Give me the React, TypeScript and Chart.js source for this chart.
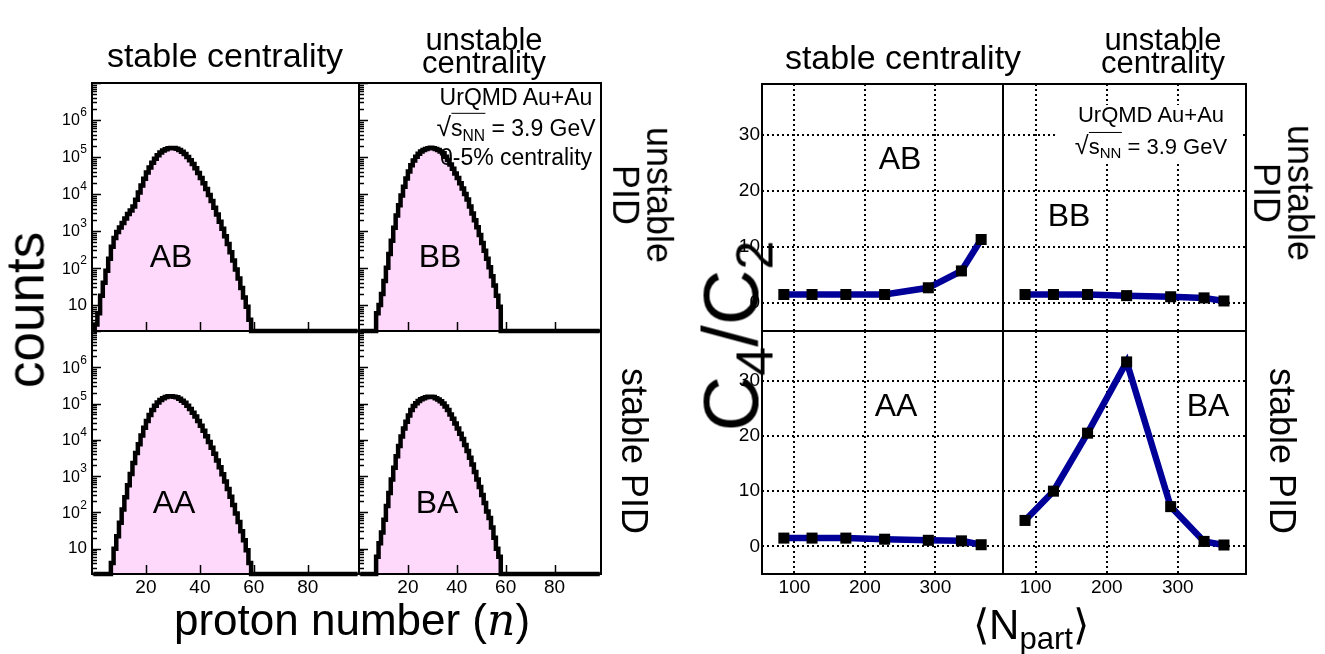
import React, { useEffect, useRef } from "react";
import { Chart, registerables } from "chart.js";

Chart.register(...registerables);

const PAGE_W = 1325;
const PAGE_H = 654;
const FONT = '"Liberation Sans", Arial, Helvetica, sans-serif';

// ---------- Data: proton-number distributions (counts per bin n, bin [n, n+1), from n = 0) ----------
const countsAB = [
  0, 3, 6, 18, 40, 85, 180, 380, 650, 950, 1250, 1650, 2200, 2900, 3600, 4600, 7000, 11000, 17000, 26000,
  38000, 52000, 70000, 90000, 112000, 132000, 150000, 163000, 172000, 176000, 175000, 168000, 155000, 138000,
  120000, 100000, 82000, 65000, 50000, 37000, 27000, 19500, 13800, 9500, 6500, 4300, 2800, 1800, 1150, 720,
  450, 270, 160, 92, 52, 29, 16, 9, 4,
];
const countsBB = [
  0, 0, 0, 0, 0, 0, 0, 6, 10, 20, 45, 102, 240, 550, 1230, 2630, 5000, 9100, 15800, 26300, 40700, 60000,
  81000, 102000, 123000, 141000, 155000, 166000, 174000, 178000, 174000, 166000, 155000, 141000, 126000,
  102000, 83000, 63000, 48000, 36000, 27000, 19500, 14100, 10000, 7100, 4600, 3000, 1950, 1260, 780, 480,
  295, 178, 105, 60, 34, 18, 9,
];
const countsAA = [
  0, 0, 0, 0, 0, 0, 0, 4, 10, 22, 52, 120, 263, 560, 1150, 2300, 4300, 7600, 13200, 21400, 33000, 48000,
  66000, 87000, 107000, 126000, 141000, 151000, 158000, 158000, 155000, 148000, 135000, 120000, 105000,
  87000, 71000, 56000, 44000, 33000, 24500, 17800, 12600, 8700, 6000, 4100, 2700, 1740, 1120, 710, 440, 270,
  160, 93, 54, 30, 17, 9, 4,
];
const countsBA = [
  0, 0, 0, 0, 0, 0, 0, 6, 14, 28, 63, 150, 340, 800, 1700, 3500, 6800, 12300, 20400, 31600, 46800, 66000,
  85000, 102000, 117000, 132000, 141000, 148000, 155000, 155000, 151000, 141000, 129000, 115000, 100000,
  83000, 66000, 50000, 38000, 28000, 20400, 14800, 10500, 7200, 4900, 3200, 2100, 1300, 810, 500, 300, 180,
  105, 70, 38, 20, 10, 6,
];
const histBins = 99;
const histXRange = [0, 99];
const histYRange = [2, 1e7];
const histXTicks = [20, 40, 60, 80];
const histYTickExponents = [1, 2, 3, 4, 5, 6];

// ---------- Data: C4/C2 vs <Npart> ----------
const npart = [85, 125, 173, 228, 290, 337, 365];
const c4c2AB = [1.5, 1.5, 1.5, 1.5, 2.7, 5.7, 11.3];
const c4c2BB = [1.5, 1.5, 1.5, 1.3, 1.1, 0.9, 0.35];
const c4c2AA = [1.5, 1.5, 1.5, 1.3, 1.1, 1.0, 0.3];
const c4c2BA = [4.7, 10.0, 20.5, 33.4, 7.2, 0.9, 0.25];
const ratioXRange = [54, 396];
const ratioYRange = [-5, 39];
const ratioXTicks = [100, 200, 300];
const ratioYTicks = [0, 10, 20, 30];

type Frame = { l: number; t: number; r: number; b: number };
type PanelSpec = {
  kind: "hist" | "ratio";
  frame: Frame;
  values: number[];
  showY: boolean;
  showX: boolean;
};

const PINK = "#ffd9fc";
const BLUE = "#000099";

function axesPlugin(p: PanelSpec) {
  return {
    id: "rootAxes",
    beforeDatasetsDraw(chart: any) {
      if (p.kind !== "ratio") return;
      const ctx = chart.ctx as CanvasRenderingContext2D;
      const { left, right, top, bottom } = chart.chartArea;
      const xs = chart.scales.x;
      const ys = chart.scales.y;
      ctx.save();
      ctx.strokeStyle = "#000";
      ctx.lineWidth = 2;
      ctx.setLineDash([2, 3]);
      for (const v of ratioXTicks) {
        const x = Math.round(xs.getPixelForValue(v));
        ctx.beginPath();
        ctx.moveTo(x, top);
        ctx.lineTo(x, bottom);
        ctx.stroke();
      }
      for (const v of ratioYTicks) {
        const y = Math.round(ys.getPixelForValue(v));
        ctx.beginPath();
        ctx.moveTo(left, y);
        ctx.lineTo(right, y);
        ctx.stroke();
      }
      ctx.restore();
    },
    afterDatasetsDraw(chart: any) {
      const ctx = chart.ctx as CanvasRenderingContext2D;
      const { left, right, top, bottom } = chart.chartArea;
      const xs = chart.scales.x;
      const ys = chart.scales.y;
      ctx.save();
      ctx.setLineDash([]);
      ctx.strokeStyle = "#000";
      ctx.fillStyle = "#000";
      if (p.kind === "hist") {
        ctx.lineWidth = 1.5;
        for (let e = 0; e <= 7; e++) {
          for (let m = 1; m <= 9; m++) {
            const v = m * Math.pow(10, e);
            if (v < histYRange[0] || v > histYRange[1]) continue;
            const y = Math.round(ys.getPixelForValue(v)) + 0.5;
            const len = m === 1 ? 9 : 5;
            ctx.beginPath();
            ctx.moveTo(left, y);
            ctx.lineTo(left + len, y);
            ctx.stroke();
          }
        }
        for (const v of histXTicks) {
          const x = Math.round(xs.getPixelForValue(v)) + 0.5;
          ctx.beginPath();
          ctx.moveTo(x, bottom);
          ctx.lineTo(x, bottom - 9);
          ctx.stroke();
        }
        if (p.showY) {
          ctx.textBaseline = "middle";
          ctx.textAlign = "right";
          for (const e of histYTickExponents) {
            const y = ys.getPixelForValue(Math.pow(10, e));
            const xr = left - 5;
            if (e === 1) {
              ctx.font = `17px ${FONT}`;
              ctx.fillText("10", xr, y);
            } else {
              ctx.font = `12px ${FONT}`;
              const s = String(e);
              const sw = ctx.measureText(s).width;
              ctx.fillText(s, xr, y - 7);
              ctx.font = `16px ${FONT}`;
              ctx.fillText("10", xr - sw - 0.5, y + 1);
            }
          }
        }
        if (p.showX) {
          ctx.font = `19px ${FONT}`;
          ctx.textAlign = "center";
          ctx.textBaseline = "middle";
          for (const v of histXTicks) {
            ctx.fillText(String(v), xs.getPixelForValue(v), bottom + 14);
          }
        }
      } else {
        if (p.showY) {
          ctx.font = `19px ${FONT}`;
          ctx.textAlign = "right";
          ctx.textBaseline = "middle";
          for (const v of ratioYTicks) {
            ctx.fillText(String(v), left - 2, ys.getPixelForValue(v));
          }
        }
        if (p.showX) {
          ctx.font = `19px ${FONT}`;
          ctx.textAlign = "center";
          ctx.textBaseline = "middle";
          for (const v of ratioXTicks) {
            ctx.fillText(String(v), xs.getPixelForValue(v), bottom + 14);
          }
        }
      }
      ctx.lineWidth = 2;
      ctx.strokeRect(left, top, right - left, bottom - top);
      ctx.restore();
    },
  };
}

function buildConfig(p: PanelSpec): any {
  const padding = {
    left: p.frame.l,
    top: p.frame.t,
    right: PAGE_W - p.frame.r,
    bottom: PAGE_H - p.frame.b,
  };
  const common = {
    responsive: false,
    animation: false,
    events: [],
    layout: { padding },
    plugins: { legend: { display: false }, tooltip: { enabled: false } },
  };
  if (p.kind === "hist") {
    const pts = [];
    for (let n = 0; n < histBins; n++) {
      const c = p.values[n] || 0;
      pts.push({ x: n + 0.5, y: c > 0 ? c : histYRange[0] });
    }
    return {
      type: "line",
      data: {
        datasets: [
          {
            data: pts,
            borderColor: "#000",
            borderWidth: 4.5,
            backgroundColor: PINK,
            fill: "start",
            stepped: "middle",
            pointRadius: 0,
            borderJoinStyle: "miter",
            borderCapStyle: "butt",
            clip: 6,
          },
        ],
      },
      options: {
        ...common,
        scales: {
          x: { type: "linear", display: false, min: histXRange[0], max: histXRange[1], bounds: "data" },
          y: { type: "logarithmic", display: false, min: histYRange[0], max: histYRange[1], bounds: "data" },
        },
      },
      plugins: [axesPlugin(p)],
    };
  }
  return {
    type: "line",
    data: {
      datasets: [
        {
          data: npart.map((x, i) => ({ x, y: p.values[i] })),
          borderColor: BLUE,
          borderWidth: 6.5,
          fill: false,
          tension: 0,
          pointStyle: "rect",
          pointRadius: 7.8,
          pointBackgroundColor: "#000",
          pointBorderColor: "#000",
          pointBorderWidth: 0,
          borderJoinStyle: "miter",
        },
      ],
    },
    options: {
      ...common,
      scales: {
        x: { type: "linear", display: false, min: ratioXRange[0], max: ratioXRange[1], bounds: "data" },
        y: { type: "linear", display: false, min: ratioYRange[0], max: ratioYRange[1], bounds: "data" },
      },
    },
    plugins: [axesPlugin(p)],
  };
}

function PanelChart({ spec }: { spec: PanelSpec }) {
  const ref = useRef<HTMLCanvasElement>(null);
  useEffect(() => {
    const canvas = ref.current;
    if (!canvas) return;
    const chart = new Chart(canvas, buildConfig(spec));
    return () => chart.destroy();
  }, [spec]);
  return (
    <canvas
      ref={ref}
      width={PAGE_W}
      height={PAGE_H}
      style={{ position: "absolute", left: 0, top: 0, width: PAGE_W, height: PAGE_H }}
    />
  );
}

const panels: PanelSpec[] = [
  { kind: "hist", frame: { l: 92, t: 83, r: 359, b: 331 }, values: countsAB, showY: true, showX: false },
  { kind: "hist", frame: { l: 359, t: 83, r: 601, b: 331 }, values: countsBB, showY: false, showX: false },
  { kind: "hist", frame: { l: 92, t: 331, r: 359, b: 574 }, values: countsAA, showY: true, showX: true },
  { kind: "hist", frame: { l: 359, t: 331, r: 601, b: 574 }, values: countsBA, showY: false, showX: true },
  { kind: "ratio", frame: { l: 762, t: 84, r: 1003, b: 331 }, values: c4c2AB, showY: true, showX: false },
  { kind: "ratio", frame: { l: 1003, t: 84, r: 1246, b: 331 }, values: c4c2BB, showY: false, showX: false },
  { kind: "ratio", frame: { l: 762, t: 331, r: 1003, b: 574 }, values: c4c2AA, showY: true, showX: true },
  { kind: "ratio", frame: { l: 1003, t: 331, r: 1246, b: 574 }, values: c4c2BA, showY: false, showX: true },
];

function Label({
  x,
  y,
  size,
  rot = 0,
  lh = 1.0,
  children,
}: {
  x: number;
  y: number;
  size: number;
  rot?: number;
  lh?: number;
  children: React.ReactNode;
}) {
  return (
    <div
      style={{
        position: "absolute",
        left: x,
        top: y,
        transform: `translate(-50%, -50%) rotate(${rot}deg)`,
        fontFamily: FONT,
        fontSize: size,
        lineHeight: lh,
        color: "#000",
        whiteSpace: "nowrap",
        textAlign: "center",
      }}
    >
      {children}
    </div>
  );
}

const sub: React.CSSProperties = { fontSize: "0.68em", verticalAlign: "-0.3em", lineHeight: 0 };
const bigSub: React.CSSProperties = { fontSize: "0.68em", verticalAlign: "-0.28em", lineHeight: 0 };

function Sqrt() {
  return (
    <span>
      <span style={{ fontSize: "1.15em" }}>√</span>
      <span style={{ borderTop: "1.5px solid #000", paddingTop: 1 }}>
        s<span style={sub}>NN</span>
      </span>
    </span>
  );
}

export default function App() {
  return (
    <div style={{ position: "absolute", left: 0, top: 0, width: PAGE_W, height: PAGE_H, background: "#fff", overflow: "hidden" }}>
      {panels.map((p, i) => (
        <PanelChart key={i} spec={p} />
      ))}

      {/* white info box over the grid of the BB ratio panel */}
      <div style={{ position: "absolute", left: 1057, top: 105, width: 183, height: 56, background: "#fff" }} />

      {/* column headers */}
      <Label x={225} y={55} size={34}>stable centrality</Label>
      <Label x={484} y={51} size={31} lh={0.75}>
        unstable
        <br />
        centrality
      </Label>
      <Label x={903} y={57} size={34}>stable centrality</Label>
      <Label x={1163} y={51} size={31} lh={0.75}>
        unstable
        <br />
        centrality
      </Label>

      {/* row labels */}
      <Label x={642} y={195} size={36} rot={90} lh={0.95}>
        unstable
        <br />
        PID
      </Label>
      <Label x={634} y={451} size={36} rot={90}>stable PID</Label>
      <Label x={1283} y={193} size={36} rot={90} lh={0.95}>
        unstable
        <br />
        PID
      </Label>
      <Label x={1282} y={451} size={36} rot={90}>stable PID</Label>

      {/* axis titles */}
      <Label x={25} y={310} size={53} rot={-90}>counts</Label>
      <Label x={352} y={620} size={44}>
        proton number (<span style={{ fontFamily: '"DejaVu Serif", "Liberation Serif", serif', fontStyle: "italic" }}>n</span>)
      </Label>
      <Label x={731} y={336} size={77} rot={-90}>
        C<span style={bigSub}>4</span>/C<span style={bigSub}>2</span>
      </Label>
      <Label x={1031} y={625} size={42}>
        ⟨N<span style={{ fontSize: "0.74em", verticalAlign: "-0.32em", lineHeight: 0 }}>part</span>⟩
      </Label>

      {/* panel tags */}
      <Label x={171} y={256} size={32}>AB</Label>
      <Label x={440} y={256} size={32}>BB</Label>
      <Label x={174} y={502} size={32}>AA</Label>
      <Label x={437} y={502} size={32}>BA</Label>
      <Label x={900} y={158} size={32}>AB</Label>
      <Label x={1069} y={215} size={32}>BB</Label>
      <Label x={896} y={405} size={32}>AA</Label>
      <Label x={1208} y={405} size={32}>BA</Label>

      {/* info boxes */}
      <Label x={516} y={127} size={23} lh={1.22}>
        UrQMD Au+Au
        <br />
        <Sqrt /> = 3.9 GeV
        <br />
        0-5% centrality
      </Label>
      <Label x={1151} y={131} size={22} lh={1.27}>
        UrQMD Au+Au
        <br />
        <Sqrt /> = 3.9 GeV
      </Label>
    </div>
  );
}
